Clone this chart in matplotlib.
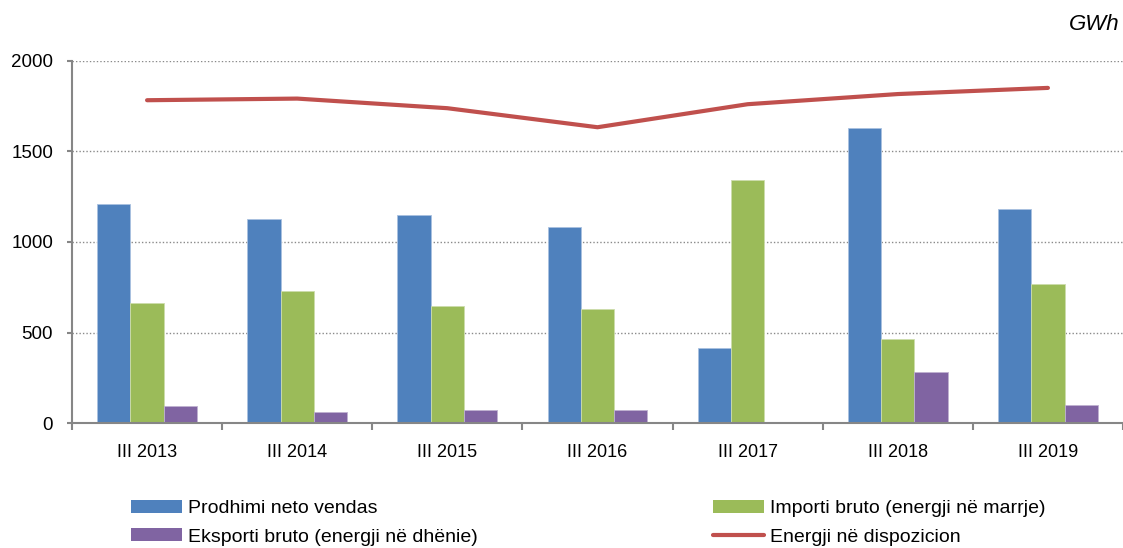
import matplotlib
matplotlib.use("Agg")
import matplotlib.pyplot as plt
from matplotlib.patches import Patch
from matplotlib.lines import Line2D
import numpy as np

# Data (GWh)
categories = ["III 2013", "III 2014", "III 2015", "III 2016",
              "III 2017", "III 2018", "III 2019"]
prodhimi = [1210, 1125, 1147, 1081, 414, 1627, 1182]
importi = [665, 728, 645, 629, 1340, 465, 768]
eksporti = [95, 62, 73, 75, 0, 285, 101]
energji = [1782, 1791, 1738, 1633, 1760, 1816, 1850]

labels = [
    "Prodhimi neto vendas",
    "Importi bruto (energji në marrje)",
    "Eksporti bruto (energji në dhënie)",
    "Energji në dispozicion",
]

blue = "#4F81BD"
green = "#9BBB59"
purple = "#8064A2"
red = "#C0504D"
axis_gray = "#868686"

plt.rcParams["font.family"] = ["Liberation Sans", "DejaVu Sans"]

fig = plt.figure(figsize=(11.23, 5.48), dpi=100)
ax = fig.add_axes([72 / 1123, 124.7 / 548, 1 - 72 / 1123, 362.6 / 548])

x = np.arange(len(categories))
w = 0.222

ax.bar(x - w, prodhimi, w, color=blue, edgecolor="#A9C1E0", linewidth=0.6, zorder=2)
ax.bar(x, importi, w, color=green, edgecolor="#CDDDAC", linewidth=0.6, zorder=2)
ax.bar(x + w, eksporti, w, color=purple, edgecolor="#BFB1D0", linewidth=0.6, zorder=2)
ax.plot(x, energji, color=red, linewidth=3.0, solid_capstyle="round",
        solid_joinstyle="round", zorder=3)

ax.set_xlim(-0.5, -0.5 + (1123 - 72) / 150.8)
ax.set_ylim(0, 2000)

ax.set_yticks([0, 500, 1000, 1500, 2000])
ax.yaxis.grid(True, linestyle=(0, (1, 1.5)), color="#8a8a8a", linewidth=1.0, zorder=0)
ax.set_axisbelow(True)

# category ticks at boundaries, labels at centers
ax.set_xticks(np.arange(len(categories) + 1) - 0.5)
ax.set_xticklabels([])
ax.set_xticks(x, minor=True)
ax.set_xticklabels(categories, minor=True)
ax.tick_params(axis="x", which="minor", length=0, pad=15, labelsize=13)
ax.tick_params(axis="x", which="major", length=5, width=1.5, color=axis_gray,
               direction="out")
ax.tick_params(axis="y", length=3.6, width=1.5, color=axis_gray, pad=10,
               labelsize=13.5)

for side in ["top", "right"]:
    ax.spines[side].set_visible(False)
for side in ["left", "bottom"]:
    ax.spines[side].set_color(axis_gray)
    ax.spines[side].set_linewidth(1.5)

fig.text(1120 / 1123, 1 - 25 / 548, "GWh", ha="right", va="center",
         fontsize=16, style="italic")

# legend, two columns
h_blue = Patch(facecolor=blue, edgecolor="none")
h_green = Patch(facecolor=green, edgecolor="none")
h_purple = Patch(facecolor=purple, edgecolor="none")
h_red = Line2D([], [], color=red, linewidth=3.0, solid_capstyle="round")

legend_style = dict(loc="upper left", frameon=False, fontsize=14,
                    handlelength=2.62, handleheight=0.67, handletextpad=0.3,
                    labelspacing=0.55, borderpad=0, borderaxespad=0)

leg1 = fig.legend([h_blue, h_purple], [labels[0], labels[2]],
                  bbox_to_anchor=(131 / 1123, 1 - 500 / 548), **legend_style)
leg2 = fig.legend([h_green, h_red], [labels[1], labels[3]],
                  bbox_to_anchor=(713 / 1123, 1 - 500 / 548), **legend_style)

fig.savefig("out.png", dpi=100)
plt.close(fig)
